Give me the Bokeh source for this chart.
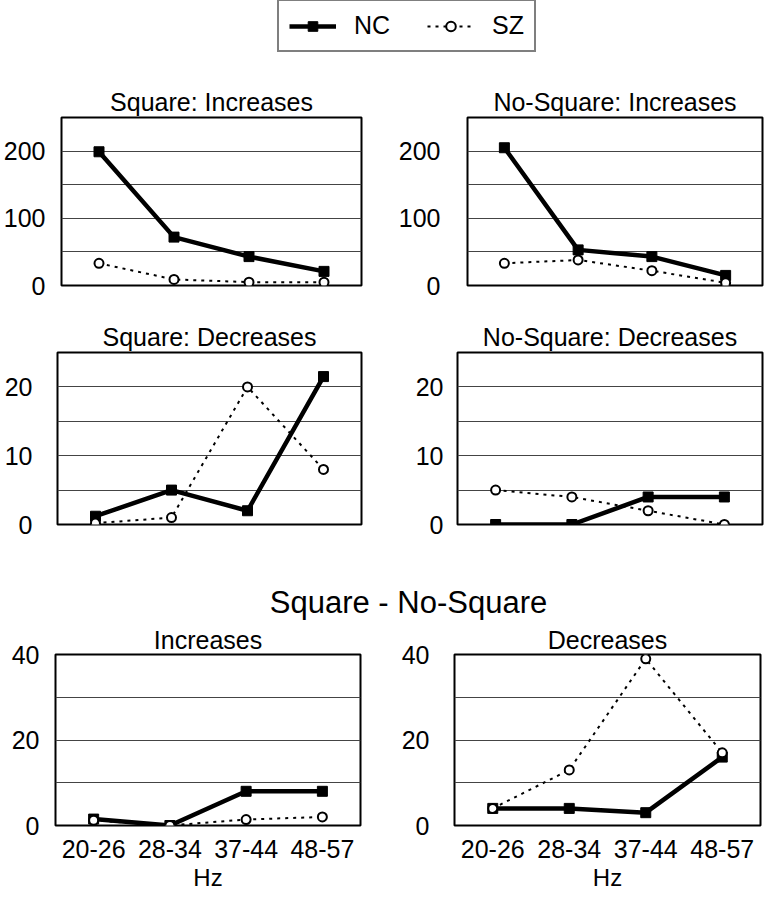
from bokeh.plotting import figure
from bokeh.models import (FactorRange, Range1d, SingleIntervalTicker, Legend,
                          LegendItem, Label)
from bokeh.layouts import row, column
from bokeh.embed import file_html
from bokeh.resources import INLINE

# ---------------- data ----------------
cats = ["20-26", "28-34", "37-44", "48-57"]

sq_inc_nc = [199, 72, 43, 21]
sq_inc_sz = [33, 9, 5, 5]
ns_inc_nc = [205, 53, 43, 15]
ns_inc_sz = [33, 38, 22, 4]

sq_dec_nc = [1.2, 5, 2, 21.5]
sq_dec_sz = [0.2, 1, 20, 8]
ns_dec_nc = [0, 0, 4, 4]
ns_dec_sz = [5, 4, 2, 0]

diff_inc_nc = [1.5, 0, 8, 8]
diff_inc_sz = [1.2, 0, 1.4, 2]
diff_dec_nc = [4, 4, 3, 16]
diff_dec_sz = [4, 13, 39, 17]

legend_labels = ["NC", "SZ"]
main_title = "Square - No-Square"

FONT = "Liberation Sans"
NAN = float("nan")


def panel(title, nc, sz, ymax, tick_step, grid_step, width, height,
          bl, br, bt, bb, standoff, show_x, title_standoff=4):
    p = figure(x_range=FactorRange(*cats), y_range=Range1d(0, ymax),
               width=width, height=height, output_backend="svg",
               toolbar_location=None, min_border_left=bl, min_border_right=br,
               min_border_top=bt, min_border_bottom=bb)
    p.title.text = title
    p.title.align = "center"
    p.title.text_font = FONT
    p.title.text_font_size = "25px"
    p.title.text_font_style = "normal"
    p.title.text_color = "black"
    p.title.standoff = title_standoff

    p.outline_line_color = "black"
    p.outline_line_width = 2
    p.background_fill_color = "white"
    p.border_fill_color = "white"

    p.xgrid.visible = False
    p.ygrid.ticker = SingleIntervalTicker(interval=grid_step)
    p.ygrid.grid_line_color = "#444444"
    p.ygrid.grid_line_width = 1

    ya = p.yaxis[0]
    ya.ticker = SingleIntervalTicker(interval=tick_step)
    ya.axis_line_color = None
    ya.major_tick_line_color = None
    ya.minor_tick_line_color = None
    ya.major_tick_out = 0
    ya.major_tick_in = 0
    ya.major_label_standoff = standoff
    ya.major_label_text_font = FONT
    ya.major_label_text_font_size = "25px"
    ya.major_label_text_color = "black"

    xa = p.xaxis[0]
    if show_x:
        xa.axis_line_color = None
        xa.major_tick_line_color = None
        xa.minor_tick_line_color = None
        xa.major_tick_out = 0
        xa.major_tick_in = 0
        xa.major_label_standoff = 14
        xa.major_label_text_font = FONT
        xa.major_label_text_font_size = "25px"
        xa.major_label_text_color = "black"
        xa.axis_label = "Hz"
        xa.axis_label_text_font = FONT
        xa.axis_label_text_font_size = "24px"
        xa.axis_label_text_font_style = "normal"
        xa.axis_label_text_color = "black"
        xa.axis_label_standoff = 3
    else:
        xa.visible = False

    p.line(cats, nc, line_color="black", line_width=4.5)
    p.scatter(cats, nc, marker="square", size=10, fill_color="black",
              line_color="black")
    p.line(cats, sz, line_color="black", line_width=2, line_dash="3 5")
    p.scatter(cats, sz, marker="circle", size=9, fill_color="white",
              line_color="black", line_width=2)
    return p


def blank(width, height):
    f = figure(width=width, height=height, output_backend="svg",
               toolbar_location=None, x_range=Range1d(0, 1),
               y_range=Range1d(0, 1), min_border_left=0, min_border_right=0,
               min_border_top=0, min_border_bottom=0)
    f.axis.visible = False
    f.grid.visible = False
    f.outline_line_color = None
    return f


# ---------------- legend strip ----------------
leg = blank(774, 60)
l1 = leg.line(x=[NAN], y=[NAN], line_color="black", line_width=4.5)
s1 = leg.scatter(x=[NAN], y=[NAN], marker="square", fill_color="black",
                 line_color="black")
l2 = leg.line(x=[NAN], y=[NAN], line_color="black", line_width=2,
              line_dash="3 5")
s2 = leg.scatter(x=[NAN], y=[NAN], marker="circle", fill_color="white",
                 line_color="black", line_width=2)
legend = Legend(items=[LegendItem(label=legend_labels[0], renderers=[l1, s1]),
                       LegendItem(label=legend_labels[1], renderers=[l2, s2])],
                orientation="horizontal", location=(277, 8),
                glyph_width=47, glyph_height=24, label_standoff=18,
                spacing=37, padding=10, margin=0,
                label_text_font=FONT, label_text_font_size="25px",
                label_text_color="black",
                border_line_color="black", border_line_width=2,
                background_fill_color="white", background_fill_alpha=1)
leg.add_layout(legend, "center")

# ---------------- panels ----------------
p1 = panel("Square: Increases", sq_inc_nc, sq_inc_sz, 250, 100, 50,
           395, 240, 57, 34, 57, 12, 12, False)
p2 = panel("No-Square: Increases", ns_inc_nc, ns_inc_sz, 250, 100, 50,
           379, 240, 63, 12, 56, 15, 23, False)
p3 = panel("Square: Decreases", sq_dec_nc, sq_dec_sz, 25, 10, 5,
           395, 245, 57, 34, 52, 20, 21, False)
p4 = panel("No-Square: Decreases", ns_dec_nc, ns_dec_sz, 25, 10, 5,
           379, 245, 62, 12, 52, 21, 10, False)

# main title strip
tt = blank(774, 76)
tt.add_layout(Label(x=408, y=0.25, x_units="screen", y_units="data",
                    text=main_title, text_align="center",
                    text_baseline="middle", text_font=FONT,
                    text_font_size="31px", text_color="black"))

p5 = panel("Increases", diff_inc_nc, diff_inc_sz, 40, 20, 10,
           395, 272, 55, 35, 33, 68, 12, True, 2)
p6 = panel("Decreases", diff_dec_nc, diff_dec_sz, 40, 20, 10,
           379, 272, 59, 14, 32, 68, 21, True, 2)

layout = column(leg, row(p1, p2), row(p3, p4), tt, row(p5, p6))

open("out.html", "w").write(file_html(layout, INLINE))
